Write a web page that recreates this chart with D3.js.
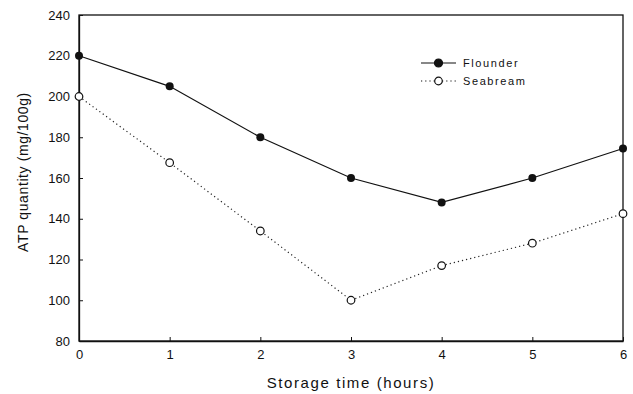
<!DOCTYPE html>
<html>
<head>
<meta charset="utf-8">
<script src="https://cdn.jsdelivr.net/npm/d3@7"></script>
<style>
  body { margin: 0; background: #fff; }
  text { font-family: Arial, "Liberation Sans", sans-serif; fill: #111; }
</style>
</head>
<body>
<div id="grafica"></div>
<script>
// datos
const horas = [0, 1, 2, 3, 4, 5, 6];
const flounder = [220, 205, 180, 160, 148, 160, 174.5];
const seabream = [200, 167.5, 134, 100, 117, 128, 142.5];
const ticksY = [80, 100, 120, 140, 160, 180, 200, 220, 240];
const ticksX = [0, 1, 2, 3, 4, 5, 6];
const series = ["Flounder", "Seabream"];

const width = 633, height = 394;
const margin = {top: 15, right: 10, bottom: 53, left: 79};
const w = width - margin.left - margin.right;
const h = height - margin.top - margin.bottom;

const svg = d3.select("#grafica").append("svg")
    .attr("width", width)
    .attr("height", height);

const g = svg.append("g")
    .attr("transform", "translate(" + margin.left + "," + margin.top + ")");

const x = d3.scaleLinear().domain([0, 6]).range([0, w]);
const y = d3.scaleLinear().domain([80, 240]).range([h, 0]);

// marco
g.append("rect")
    .attr("width", w).attr("height", h)
    .attr("fill", "none").attr("stroke", "#111").attr("stroke-width", 1.3);

// ejes con ticks hacia dentro
const xAxis = d3.axisBottom(x).tickValues(ticksX).tickFormat(d3.format("d"))
    .tickSizeInner(-4).tickSizeOuter(0).tickPadding(9);
const yAxis = d3.axisLeft(y).tickValues(ticksY).tickFormat(d3.format("d"))
    .tickSizeInner(-4).tickSizeOuter(0).tickPadding(9);

const gx = g.append("g").attr("transform", "translate(0," + h + ")").call(xAxis);
const gy = g.append("g").call(yAxis);
[gx, gy].forEach(function(a) {
    a.select(".domain").attr("stroke", "#111").attr("stroke-width", 1.3);
    a.selectAll(".tick line").attr("stroke", "#111");
    a.selectAll(".tick text").attr("font-size", 13).attr("fill", "#111")
        .attr("font-family", "Arial, 'Liberation Sans', sans-serif");
});

// lineas
const linea = function(vals) {
    return d3.line()
        .x(function(d, i) { return x(horas[i]); })
        .y(function(d) { return y(d); })(vals);
};

g.append("path")
    .attr("d", linea(flounder))
    .attr("fill", "none").attr("stroke", "#111").attr("stroke-width", 1.2);

g.append("path")
    .attr("d", linea(seabream))
    .attr("fill", "none").attr("stroke", "#222").attr("stroke-width", 1.2)
    .attr("stroke-dasharray", "1.2,3");

g.selectAll(".pf").data(flounder).enter().append("circle")
    .attr("cx", function(d, i) { return x(horas[i]); })
    .attr("cy", function(d) { return y(d); })
    .attr("r", 4).attr("fill", "#111");

g.selectAll(".ps").data(seabream).enter().append("circle")
    .attr("cx", function(d, i) { return x(horas[i]); })
    .attr("cy", function(d) { return y(d); })
    .attr("r", 3.8).attr("fill", "#fff").attr("stroke", "#111").attr("stroke-width", 1.2);

// leyenda
const ley = svg.append("g").attr("transform", "translate(421,63)");
series.forEach(function(s, i) {
    const fila = ley.append("g").attr("transform", "translate(0," + (i * 18) + ")");
    fila.append("line").attr("x1", 0).attr("x2", 35)
        .attr("stroke", "#111").attr("stroke-width", 1.2)
        .attr("stroke-dasharray", i === 0 ? null : "1.2,3");
    fila.append("circle").attr("cx", 17.5).attr("r", i === 0 ? 4 : 3.8)
        .attr("fill", i === 0 ? "#111" : "#fff").attr("stroke", "#111").attr("stroke-width", 1.2);
    fila.append("text").attr("x", 42).attr("dy", "0.35em")
        .attr("font-size", 11).attr("letter-spacing", 1.6).text(s);
});

// titulos de ejes
svg.append("text")
    .attr("x", margin.left + w / 2).attr("y", 388)
    .attr("text-anchor", "middle").attr("font-size", 15).attr("letter-spacing", 1.6)
    .text("Storage time (hours)");

svg.append("text")
    .attr("transform", "translate(28,172) rotate(-90)")
    .attr("text-anchor", "middle").attr("font-size", 14).attr("letter-spacing", 0.6)
    .text("ATP quantity (mg/100g)");
</script>
</body>
</html>
